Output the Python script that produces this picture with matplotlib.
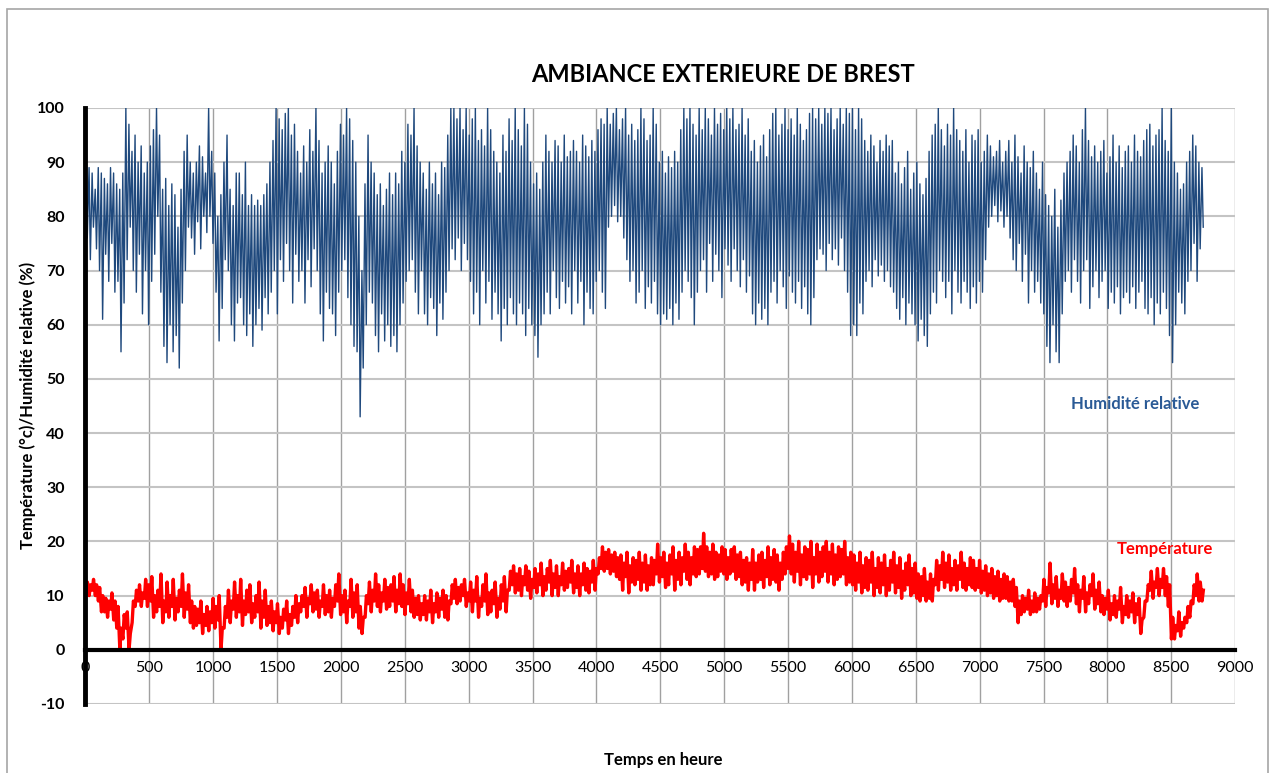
import numpy as np
import matplotlib
matplotlib.use("Agg")
import matplotlib.pyplot as plt
from matplotlib.patches import Rectangle

plt.rcParams['font.family'] = ['Lato', 'DejaVu Sans']
plt.rcParams['axes.unicode_minus'] = False

# Humidité relative (%) : maxi et mini journaliers (365 jours)
hum_max = [
    86, 89, 88, 85, 89, 88, 87, 86, 89, 88,
    86, 85, 88, 100, 97, 92, 95, 90, 93, 88,
    90, 93, 96, 100, 95, 85, 87, 82, 86, 84,
    78, 85, 92, 95, 90, 88, 90, 93, 91, 88,
    100, 92, 88, 80, 84, 90, 95, 85, 82, 88,
    88, 84, 90, 82, 84, 82, 83, 82, 84, 86,
    90, 94, 100, 98, 96, 99, 100, 95, 97, 92,
    88, 93, 90, 96, 92, 100, 94, 88, 90, 93,
    90, 86, 92, 97, 95, 100, 98, 94, 90, 80,
    70, 86, 95, 90, 88, 84, 86, 82, 85, 88,
    84, 88, 86, 92, 90, 97, 95, 100, 93, 90,
    88, 85, 90, 86, 88, 84, 90, 89, 95, 100,
    100, 98, 100, 96, 100, 95, 98, 100, 94, 96,
    93, 100, 96, 92, 90, 88, 95, 92, 98, 94,
    100, 96, 93, 100, 97, 90, 86, 88, 85, 90,
    95, 92, 90, 94, 93, 90, 95, 91, 92, 94,
    92, 90, 95, 93, 91, 94, 92, 96, 98, 97,
    100, 97, 99, 100, 96, 98, 100, 95, 97, 94,
    96, 100, 98, 94, 95, 100, 97, 90, 92, 88,
    91, 89, 92, 90, 96, 100, 98, 100, 97, 95,
    100, 96, 100, 98, 95, 100, 97, 99, 96, 100,
    98, 100, 96, 97, 100, 95, 98, 92, 94, 90,
    93, 95, 91, 96, 99, 100, 95, 97, 100, 96,
    98, 95, 100, 97, 94, 96, 99, 100, 98, 100,
    97, 100, 99, 100, 96, 98, 100, 97, 100, 99,
    100, 96, 100, 98, 94, 92, 95, 93, 90, 94,
    92, 95, 93, 94, 88, 90, 86, 89, 92, 85,
    88, 90, 86, 84, 87, 92, 95, 97, 100, 96,
    93, 97, 95, 100, 96, 94, 92, 96, 90, 95,
    94, 96, 90, 92, 95, 93, 91, 92, 94, 90,
    92, 94, 90, 95, 91, 88, 93, 90, 89, 92,
    88, 85, 90, 84, 82, 80, 85, 78, 83, 88,
    90, 92, 95, 93, 90, 96, 100, 94, 91, 93,
    90, 92, 94, 88, 91, 95, 90, 93, 89, 92,
    93, 90, 95, 92, 91, 94, 96, 97, 93, 95,
    96, 100, 94, 92, 100, 90, 88, 85, 86, 90,
    92, 95, 93, 90, 89,
]
hum_min = [
    76, 72, 78, 74, 70, 61, 73, 68, 75, 66,
    68, 55, 64, 72, 78, 70, 66, 73, 62, 70,
    60, 68, 73, 80, 66, 56, 53, 60, 55, 58,
    52, 64, 70, 78, 76, 73, 79, 74, 80, 77,
    80, 75, 66, 57, 63, 72, 70, 60, 57, 64,
    65, 60, 58, 62, 56, 60, 63, 59, 65, 62,
    66, 70, 62, 72, 68, 75, 70, 64, 73, 68,
    70, 64, 72, 67, 74, 70, 62, 57, 66, 63,
    62, 58, 66, 70, 72, 65, 60, 56, 55, 43,
    52, 60, 66, 64, 58, 55, 62, 57, 60, 56,
    58, 55, 60, 64, 68, 70, 72, 66, 62, 70,
    62, 60, 65, 63, 58, 64, 61, 66, 70, 74,
    72, 76, 70, 75, 72, 68, 62, 66, 60, 70,
    64, 68, 61, 66, 62, 57, 63, 60, 65, 62,
    60, 64, 62, 58, 63, 60, 58, 54, 60, 62,
    66, 62, 70, 65, 63, 68, 64, 67, 62, 70,
    64, 68, 60, 66, 63, 62, 68, 70, 66, 63,
    78, 80, 82, 79, 80, 76, 72, 68, 70, 64,
    66, 70, 63, 67, 64, 68, 62, 60, 62, 61,
    63, 60, 64, 61, 66, 70, 68, 65, 60, 66,
    70, 72, 66, 75, 68, 73, 70, 65, 74, 71,
    68, 74, 70, 67, 72, 66, 69, 62, 60, 64,
    61, 63, 60, 66, 68, 64, 70, 67, 63, 69,
    66, 64, 68, 63, 67, 62, 60, 65, 72, 74,
    73, 70, 75, 72, 74, 71, 76, 70, 66, 58,
    60, 58, 64, 62, 68, 70, 67, 72, 69, 71,
    68, 70, 67, 66, 63, 61, 65, 60, 64, 62,
    60, 57, 61, 58, 56, 62, 66, 64, 70, 68,
    65, 68, 62, 70, 66, 64, 68, 66, 63, 67,
    64, 68, 66, 72, 78, 80, 82, 79, 81, 78,
    80, 76, 72, 70, 75, 68, 73, 64, 70, 66,
    68, 64, 62, 56, 53, 60, 55, 53, 62, 68,
    70, 66, 72, 68, 64, 70, 72, 63, 67, 70,
    65, 68, 70, 63, 66, 64, 67, 62, 65, 66,
    64, 67, 63, 66, 68, 63, 62, 65, 60, 64,
    62, 66, 63, 58, 53, 60, 66, 64, 62, 68,
    70, 75, 68, 74, 78,
]

# Température (°C) : maxi et mini journaliers
temp_max = [
    12.5, 12, 13, 12, 11.5, 10, 9.5, 9, 10.5, 9,
    8, 4, 6.5, 7, 3, 9, 11, 12, 10.5, 13,
    12, 13.5, 10, 11, 14, 9, 12.5, 10, 13, 9.5,
    11, 14, 10.5, 12, 9, 8, 7.5, 9, 6.5, 8,
    7, 9.5, 8, 10, 4, 8, 11, 9, 12.5, 10,
    13, 9, 11, 12, 8.5, 10, 12.5, 9, 11, 8,
    9, 7, 8.5, 6, 7.5, 9, 6.5, 8, 10, 8.5,
    10, 11.5, 9.5, 12, 10.5, 11, 9, 12, 10, 11,
    9.5, 12, 14, 10, 11, 9, 13, 10.5, 12, 8,
    6, 10, 12.5, 11, 14, 12, 10.5, 13, 11.5, 12,
    13.5, 11, 14, 12, 10.5, 13, 11, 9.5, 10, 8.5,
    10, 9, 11, 8.5, 10.5, 9.5, 11, 10, 9, 12,
    13, 11.5, 12, 13, 10.5, 12.5, 11, 13.5, 9.5, 12,
    14, 10.5, 11, 12.5, 9.5, 12, 13.5, 11, 14.5, 15.5,
    14, 15, 13.5, 15.5, 14.5, 13, 15, 14, 16, 13.5,
    15, 16.5, 14, 15.5, 13.5, 16, 14.5, 15, 16.5, 14,
    15.5, 14, 16, 15, 14.5, 16.5, 15, 17, 19, 18,
    18.5, 17.5, 18, 17, 17.5, 16, 18, 15.5, 17, 16.5,
    18, 16, 17.5, 15.5, 17, 16.5, 19.5, 17, 18, 16,
    17.5, 19, 16.5, 18, 17, 19.5, 18, 17, 19, 18.5,
    19, 21.5, 19, 18, 19.5, 18, 17.5, 19, 18.5, 17,
    18.5, 19, 17.5, 18, 16.5, 17, 16, 18.5, 16, 17.5,
    18, 16.5, 19, 17, 18.5, 17.5, 16, 18, 19, 21,
    19.5, 18, 20, 17.5, 19, 18.5, 20, 17, 19.5, 18,
    19, 20, 18, 19.5, 17.5, 19, 18.5, 20, 17, 18,
    17.5, 16, 18, 15.5, 17, 16.5, 18, 15, 17, 16,
    17.5, 15, 16.5, 18, 15.5, 17, 14.5, 16, 17.5, 15,
    16, 14, 13.5, 15, 12.5, 14, 13, 16.5, 15.5, 18,
    16, 17.5, 15, 16.5, 15.5, 18, 16, 15, 17, 16.5,
    15, 16.5, 14.5, 15.5, 14, 15, 13.5, 14.5, 13, 14,
    13.5, 12.5, 13, 11.5, 9, 10, 9.5, 11, 9, 10.5,
    9.5, 10, 13, 11.5, 16, 12, 13.5, 11, 14, 12.5,
    11.5, 13, 15, 12, 11, 13.5, 10.5, 12, 14, 11,
    12.5, 10, 9.5, 11, 8.5, 10, 9, 11.5, 8, 10,
    9, 10.5, 8.5, 9.5, 5.5, 9, 12, 14.5, 12.5, 15,
    13, 15, 13.5, 12, 6, 4.5, 7, 5, 6, 8,
    9, 12, 14, 12.5, 11,
]
temp_min = [
    10.5, 10, 11, 10, 9, 7, 7, 6, 7.5, 5.5,
    4, 0, 2, 4, 0, 5, 8, 9, 8, 9.5,
    8, 9, 6, 7, 8, 5, 7, 6, 8, 5.5,
    7, 8, 6, 7.5, 5, 4, 4.5, 5, 3, 4.5,
    3.5, 5, 4, 5.5, 0, 4, 6, 5, 7.5, 6,
    7, 4.5, 6.5, 7, 5, 6, 7, 4, 6, 4.5,
    5, 3.5, 5, 3, 4, 5.5, 3, 4.5, 6, 5,
    7, 8, 6, 8.5, 7, 7.5, 6, 8, 6.5, 7,
    6, 8, 9, 6.5, 7, 5, 8, 6, 7, 4,
    3, 6, 8.5, 7, 9, 8, 7, 9, 7.5, 8,
    9, 7, 8.5, 8, 6.5, 8.5, 7, 6, 6.5, 5.5,
    6.5, 5.5, 7, 5, 7, 6, 7.5, 6, 5.5, 8.5,
    9.5, 8.5, 9, 10, 8, 9, 7, 9, 6, 8,
    9, 6.5, 7, 8.5, 6, 7.5, 9, 7, 11, 12,
    10.5, 11, 10, 12, 11, 9.5, 11.5, 10.5, 12, 10,
    11, 12.5, 10, 11.5, 10, 12, 11, 11.5, 12.5, 10.5,
    11.5, 10, 12, 11, 10.5, 12.5, 11, 14, 15, 14.5,
    15, 14, 14.5, 13.5, 13, 11, 13.5, 10.5, 12.5, 12,
    13, 11, 12.5, 11, 12, 12, 14, 12.5, 13.5, 11.5,
    12, 14, 11, 13, 12, 14.5, 13, 12, 14, 13.5,
    14, 15, 14.5, 13.5, 14, 13, 13.5, 14.5, 14, 13,
    14, 14.5, 13, 13.5, 12, 12.5, 11, 13, 11, 12.5,
    13, 11.5, 13.5, 12, 13, 12.5, 11, 13, 14, 15,
    14, 12.5, 14.5, 12, 13.5, 13, 14, 11.5, 14, 12.5,
    13.5, 14.5, 12.5, 14, 12, 13, 13.5, 14, 12, 12.5,
    12, 11, 12.5, 10.5, 11.5, 11, 12.5, 10, 11.5, 10.5,
    12, 10, 11, 12.5, 10.5, 11.5, 9.5, 11, 12, 10,
    10.5, 9.5, 9, 10, 9, 9.5, 9, 12, 11, 13,
    11.5, 12.5, 11, 12, 11, 13, 11.5, 11, 12, 11.5,
    11, 11.5, 10.5, 11, 10, 10.5, 9.5, 10, 9, 9.5,
    9.5, 9, 9, 8, 5, 6.5, 7, 7.5, 6.5, 7,
    7, 7.5, 9, 8, 10.5, 8.5, 9.5, 8, 9.5, 9,
    8, 9, 10.5, 8.5, 7, 9.5, 7, 8.5, 10, 7.5,
    8.5, 7, 6.5, 7.5, 5.5, 6.5, 6, 7.5, 5, 6.5,
    6, 7, 5, 6.5, 3, 6, 9, 11, 9.5, 11.5,
    10, 11.5, 10, 8, 2, 2, 3.5, 2.5, 4, 5,
    6, 8.5, 10, 9, 9,
]

x_ticks = [0, 500, 1000, 1500, 2000, 2500, 3000, 3500, 4000, 4500,
           5000, 5500, 6000, 6500, 7000, 7500, 8000, 8500, 9000]
y_ticks = [-10, 0, 10, 20, 30, 40, 50, 60, 70, 80, 90, 100]

# heures : une valeur maxi et une mini par jour
jours = np.arange(len(hum_max)) * 24
h_hum = np.column_stack([jours + 4, jours + 14]).ravel()
v_hum = np.column_stack([hum_max, hum_min]).ravel()
h_temp = np.column_stack([jours + 5, jours + 15]).ravel()
v_temp = np.column_stack([temp_min, temp_max]).ravel()

fig = plt.figure(figsize=(12.76, 7.73), dpi=100)
ax = fig.add_axes([0.067, 0.0893, 0.901, 0.771])

# cadre gris autour du graphique
fig.patches.append(Rectangle((7 / 1276, -0.05), 1261 / 1276, (773 - 9) / 773 + 0.05,
                             transform=fig.transFigure, fill=False,
                             edgecolor='#A6A6A6', linewidth=1.2))

ax.plot(h_hum, v_hum, color='#1F497D', linewidth=1.0, zorder=3)
ax.plot(h_temp, v_temp, color='#FF0000', linewidth=2.4, zorder=3)

ax.set_xlim(0, 9000)
ax.set_ylim(-10, 100)
ax.set_xticks(x_ticks)
ax.set_yticks(y_ticks)
ax.tick_params(length=0, labelsize=11.5)
for lab in ax.get_xticklabels() + ax.get_yticklabels():
    lab.set_fontweight('bold')
ax.tick_params(axis='y', pad=15)
ax.tick_params(axis='x', pad=8)

for v in x_ticks[1:]:
    ax.axvline(v, color='#A0A0A0', linewidth=1, zorder=1)
for v in y_ticks:
    if v != 0:
        ax.axhline(v, color='#C4C4C4', linewidth=1.5, zorder=1)

ax.spines['top'].set_visible(False)
ax.spines['right'].set_visible(False)
ax.spines['bottom'].set_position(('data', 0))
ax.spines['bottom'].set_linewidth(3)
ax.spines['bottom'].set_color('black')
ax.spines['bottom'].set_zorder(4)
ax.spines['left'].set_linewidth(3.5)
ax.spines['left'].set_color('black')
ax.spines['left'].set_zorder(4)

fig.text(0.5666, 0.904, 'AMBIANCE EXTERIEURE DE BREST', ha='center', va='center',
         fontsize=17, fontweight='bold')
fig.text(0.022, 0.475, 'Température (°c)/Humidité relative (%)', rotation=90,
         ha='center', va='center', fontsize=12, fontweight='bold')
fig.text(0.520, 0.017, 'Temps en heure', ha='center', va='center',
         fontsize=12, fontweight='bold')

ax.text(8216, 45.3, 'Humidité relative', color='#2A5A96', fontsize=12,
        fontweight='bold', ha='center', va='center', zorder=5)
ax.text(8451, 18.6, 'Température', color='#FF0000', fontsize=12,
        fontweight='bold', ha='center', va='center', zorder=5)

fig.savefig('out.png', dpi=100)
